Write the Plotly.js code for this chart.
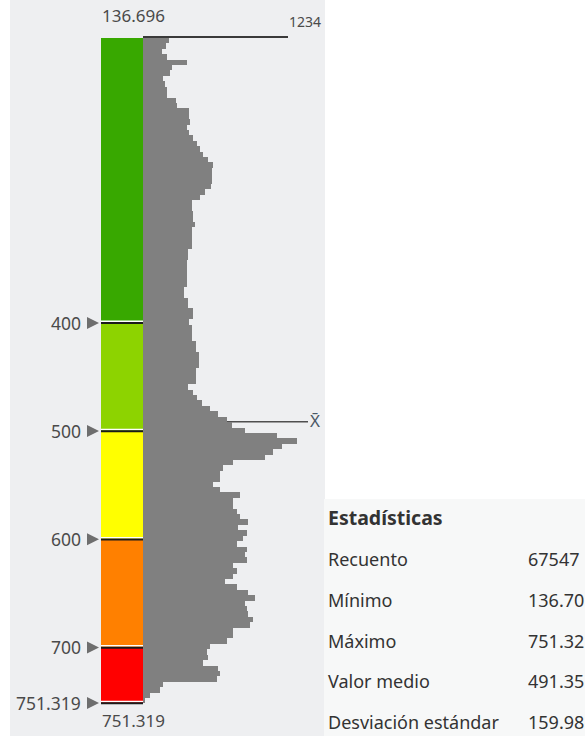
<!DOCTYPE html>
<html>
<head>
<meta charset="utf-8">
<script src="https://cdn.plot.ly/plotly-3.0.1.min.js"></script>
<style>html,body{margin:0;padding:0;background:#fff;}#chart{width:585px;height:736px;}</style>
</head>
<body>
<div id="chart"></div>
<script>
// ---- data ----
const minVal = 136.696;
const maxVal = 751.319;
const meanVal = 491.35;
const maxCount = 1234;
const breaks = [136.696, 400, 500, 600, 700, 751.319];
const breakLabels = ['400', '500', '600', '700', '751.319'];
const classColors = ['#38A800', '#8DD300', '#FFFF00', '#FF8000', '#FF0000'];
const binStart = 136.696;
const binWidth = 5;
const counts = [221,196,162,204,374,247,230,170,187,204,
204,281,289,391,391,400,374,391,426,460,
485,511,553,596,587,587,587,579,528,485,
417,417,426,426,443,417,417,417,417,383,
383,374,374,374,374,374,349,349,383,383,
426,426,391,417,417,417,451,451,477,477,
477,451,451,451,383,426,460,502,570,638,
715,757,868,1140,1310,1183,1106,1038,766,681,
655,655,596,655,825,766,766,800,825,894,
808,885,851,800,885,868,885,766,800,766,
698,800,894,953,868,885,894,936,911,766,
766,715,570,545,553,511,638,655,630,170,
145,60,17];
const statNames = ['Recuento', 'Mínimo', 'Máximo', 'Valor medio', 'Desviación estándar'];
const statValues = ['67547', '136.70', '751.32', '491.35', '159.98'];
const statsTitle = 'Estadísticas';

// ---- layout geometry (pixels) ----
const W = 585, H = 736;
const pxTop = 38, pxBottom = 703;
const barX0 = 101, barX1 = 143, countLineEnd = 288;
const scale = (pxBottom - pxTop) / (maxVal - minVal); // px per unit
const yTopVal = minVal - pxTop / scale;
const yBotVal = maxVal + (H - pxBottom) / scale;
const px = v => v / W;
const py = v => 1 - v / H;
const du = p => p / scale; // pixels -> data units

const centers = counts.map((c, i) => binStart + (i + 0.5) * binWidth);

const font = 'Noto Sans, Open Sans, sans-serif';
const labelColor = '#4a4a4a';

const shapes = [];
// panels
shapes.push({type:'rect', xref:'paper', yref:'paper', x0:px(10), x1:px(325), y0:0, y1:1, fillcolor:'#eeeff1', line:{width:0}, layer:'below'});
shapes.push({type:'rect', xref:'paper', yref:'paper', x0:px(324), x1:1, y0:0, y1:py(499), fillcolor:'#f7f8f8', line:{width:0}, layer:'below'});
// mean line
shapes.push({type:'line', xref:'paper', yref:'y', x0:px(barX1), x1:px(308), y0:meanVal, y1:meanVal, line:{color:'#4f4f4f', width:1.5}, layer:'below'});
// colour classes
for (let i = 0; i < classColors.length; i++) {
  shapes.push({type:'rect', xref:'paper', yref:'y', x0:px(barX0), x1:px(barX1), y0:breaks[i], y1:breaks[i+1], fillcolor:classColors[i], line:{width:0}});
}
// break lines and handles
for (let i = 1; i < breaks.length; i++) {
  const b = breaks[i];
  shapes.push({type:'line', xref:'paper', yref:'y', x0:px(barX0), x1:px(barX1), y0:b - du(1.6), y1:b - du(1.6), line:{color:'#ffffff', width:1.5}});
  shapes.push({type:'line', xref:'paper', yref:'y', x0:px(barX0), x1:px(barX1), y0:b + du(0.2), y1:b + du(0.2), line:{color:'#1a1a1a', width:2}});
  const h = du(6);
  shapes.push({type:'path', xref:'paper', yref:'y',
    path:`M ${px(87)},${b - h} L ${px(99)},${b} L ${px(87)},${b + h} Z`,
    fillcolor:'#6e6e6e', line:{width:0}});
}
// max count line
shapes.push({type:'line', xref:'x', yref:'y', x0:0, x1:maxCount, y0:minVal - du(1), y1:minVal - du(1), line:{color:'#3a3a3a', width:2}});

const annotations = [];
const ann = (text, x, y, xanchor, size, color, extra) => Object.assign({
  text, x, y, xref:'paper', yref:'paper', xanchor, yanchor:'middle', showarrow:false,
  font:{family:font, size, color}
}, extra || {});
annotations.push(ann(String(minVal), px(barX0 - 1), py(16), 'left', 17, labelColor));
annotations.push(ann(String(maxCount), px(323), py(22), 'right', 14, labelColor));
annotations.push(ann(String(maxVal), px(barX0 - 1), py(720), 'left', 17, labelColor));
for (let i = 1; i < breaks.length; i++) {
  annotations.push({text:breakLabels[i-1], x:px(83), y:breaks[i], xref:'paper', yref:'y', xanchor:'right', yanchor:'middle', showarrow:false, font:{family:font, size:17.5, color:labelColor}});
}
annotations.push({text:'X\u0304', x:px(315), y:meanVal, xref:'paper', yref:'y', xanchor:'center', yanchor:'middle', yshift:1, showarrow:false, font:{family:font, size:17, color:'#4a5866'}});
// stats
annotations.push(ann('<b>' + statsTitle + '</b>', px(326), py(517), 'left', 19.5, '#333333'));
for (let i = 0; i < statNames.length; i++) {
  const y = 559 + i * 40.8;
  annotations.push(ann(statNames[i], px(326), py(y), 'left', 18, '#333333'));
  annotations.push(ann(statValues[i], px(526), py(y), 'left', 18, '#333333'));
}

const trace = {
  type:'bar', orientation:'h', x:counts, y:centers, width:binWidth,
  marker:{color:'#808080', line:{width:0}}, hoverinfo:'skip'
};

const layout = {
  width:W, height:H, margin:{l:0, r:0, t:0, b:0, pad:0},
  paper_bgcolor:'#ffffff', plot_bgcolor:'rgba(0,0,0,0)',
  showlegend:false, bargap:0,
  xaxis:{domain:[px(barX1), 1], range:[0, maxCount * (W - barX1) / (countLineEnd - barX1)], visible:false, fixedrange:true},
  yaxis:{domain:[0, 1], range:[yBotVal, yTopVal], visible:false, fixedrange:true},
  shapes, annotations
};

Plotly.newPlot('chart', [trace], layout, {displayModeBar:false, staticPlot:true});
</script>
</body>
</html>
